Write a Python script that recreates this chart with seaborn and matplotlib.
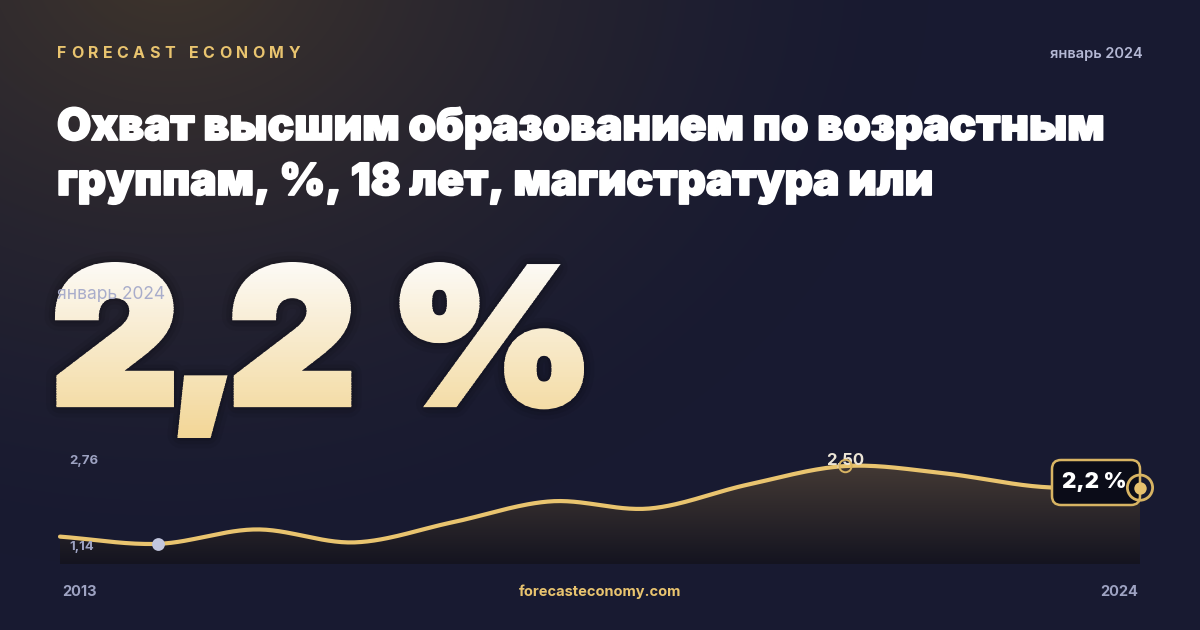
import numpy as np
import pandas as pd
import matplotlib
matplotlib.use("Agg")
import matplotlib.pyplot as plt
import matplotlib.patheffects as pe
import seaborn as sns
from matplotlib.textpath import TextPath
from matplotlib.font_manager import FontProperties, fontManager
from matplotlib.patches import PathPatch, FancyBboxPatch, Polygon, Rectangle
from matplotlib.transforms import Affine2D

# данные
years = list(range(2013, 2025))
values = [1.52, 1.42, 1.62, 1.44, 1.72, 2.01, 1.91, 2.24, 2.50, 2.40, 2.21, 2.20]
y_low, y_high = 1.14, 2.76
low_label, high_label = "1,14", "2,76"
peak_year, peak_label = 2021, "2,50"
min_year = 2014
big_value = "2,2 %"
end_label = "2,2 %"
brand = "FORECAST ECONOMY"
period = "январь 2024"
title_lines = ["Охват высшим образованием по возрастным",
               "группам, %, 18 лет, магистратура или"]
site = "forecasteconomy.com"

GOLD = "#e9c46f"
GREY = "#9ea3c2"


def font_file(family, weight):
    for f in fontManager.ttflist:
        if f.name == family and f.weight == weight and "Italic" not in f.fname:
            return FontProperties(fname=f.fname)
    return FontProperties(family=family, weight=weight)


# сглаженная кривая через точки (Catmull-Rom)
def smooth_curve(x, y, n=30):
    x = np.asarray(x, float)
    y = np.asarray(y, float)
    px = np.concatenate([[2 * x[0] - x[1]], x, [2 * x[-1] - x[-2]]])
    py = np.concatenate([[2 * y[0] - y[1]], y, [2 * y[-1] - y[-2]]])
    t = np.linspace(0, 1, n, endpoint=False)
    xs, ys = [], []
    for i in range(1, len(px) - 2):
        for p, out in ((px, xs), (py, ys)):
            p0, p1, p2, p3 = p[i - 1], p[i], p[i + 1], p[i + 2]
            out.append(0.5 * (2 * p1 + (-p0 + p2) * t
                              + (2 * p0 - 5 * p1 + 4 * p2 - p3) * t ** 2
                              + (-p0 + 3 * p1 - 3 * p2 + p3) * t ** 3))
    xs = np.concatenate(xs + [[x[-1]]])
    ys = np.concatenate(ys + [[y[-1]]])
    return xs, ys


def spaced_text(axx, x, y, s, gap, space_w, **kw):
    r = axx.figure.canvas.get_renderer()
    for ch in s:
        if ch == " ":
            x += space_w
            continue
        t = axx.text(x, y, ch, **kw)
        x += t.get_window_extent(renderer=r).width + gap


sns.set_theme(style="white")
plt.rcParams["font.family"] = ["Inter", "DejaVu Sans"]

f_black = font_file("Inter", 900)
f_bold = font_file("Inter", 700)
f_semi = font_file("Inter", 600)
f_reg = font_file("Inter", 400)
f_disp = font_file("Inter Display", 900)

fig = plt.figure(figsize=(12, 6.3), dpi=100)

# фон
bg = fig.add_axes([0, 0, 1, 1])
yy, xx = np.mgrid[0:630, 0:1200]
d = np.hypot(xx - 170, (yy + 40) * 1.25)
k = np.clip(1 - d / 760, 0, 1) ** 1.5
base = np.array([24, 26, 49]) / 255
glow = np.array([63, 53, 44]) / 255
bg.imshow(base + (glow - base) * k[..., None], extent=(0, 1200, 630, 0),
          aspect="auto", zorder=0)

# шапка
spaced_text(bg, 57, 53, brand, 4.5, 9, color=GOLD, fontsize=11.5,
            fontproperties=f_bold, va="center", ha="left", zorder=5)
bg.text(1143, 54, period, color="#b4b8d4", fontsize=10.5, fontproperties=f_semi,
        ha="right", va="center", zorder=5)
title_fx = [pe.withStroke(linewidth=1.3, foreground="white")]
for i, line in enumerate(title_lines):
    bg.text(57, 140 + 55 * i, line, color="white", fontproperties=f_black,
            fontsize=31.8, ha="left", va="baseline", zorder=5,
            path_effects=title_fx)

# большое число с градиентом (полосами, с утолщением контура)
tp = TextPath((0, 0), big_value, size=100, prop=f_disp)
ext = tp.get_extents()
grow = 3.5
x0, x1, top, bot = 55 + grow, 584 - grow, 262 + grow, 438 - grow
tr = (Affine2D().translate(-ext.x0, -ext.y1)
      .scale((x1 - x0) / ext.width, -(bot - top) / ext.height)
      .translate(x0, top))
path = tr.transform_path(tp)
for lw, a in ((20, 0.05), (14, 0.07), (9, 0.09)):
    bg.add_patch(PathPatch(path, facecolor="none", edgecolor=(0, 0, 0, a),
                           linewidth=lw, joinstyle="round", zorder=2))
c_top = np.array([252, 250, 246]) / 255
c_bot = np.array([242, 214, 150]) / 255
n_band = 70
edges = np.linspace(262, 438, n_band + 1)
for i in range(n_band):
    col = c_top + (c_bot - c_top) * (i + 0.5) / n_band
    p = PathPatch(path, facecolor=col, edgecolor=col, linewidth=grow * 2 * 0.72,
                  joinstyle="miter", zorder=3)
    bg.add_patch(p)
    r = Rectangle((40, edges[i] - 0.3), 560, edges[i + 1] - edges[i] + 0.6,
                  transform=bg.transData, facecolor="none", edgecolor="none")
    p.set_clip_path(r)
bg.text(57, 295, period, color="#a9adcb", fontsize=12.5, fontproperties=f_reg,
        ha="left", va="center", zorder=5)

# подписи внизу
bg.text(62, 592, str(years[0]), color=GREY, fontsize=10.5, fontproperties=f_bold,
        ha="left", va="center", zorder=5)
bg.text(1138, 592, str(years[-1]), color=GREY, fontsize=10.5, fontproperties=f_bold,
        ha="right", va="center", zorder=5)
bg.text(600, 592, site, color=GOLD, fontsize=10.5, fontproperties=f_bold,
        ha="center", va="center", zorder=5)

bg.set_xlim(0, 1200)
bg.set_ylim(630, 0)
bg.axis("off")

# график
ax = fig.add_axes([60 / 1200, (630 - 564) / 630, 1080 / 1200, (564 - 447.3) / 630])
ax.patch.set_alpha(0)
sx, sy = smooth_curve(years, values)
df = pd.DataFrame({"x": sx, "y": sy})

fill_grad = np.linspace(0, 1, 256)[:, None, None]
f_top = np.array([76, 64, 56]) / 255
f_bot = np.array([20, 20, 32]) / 255
fim = ax.imshow(f_top + (f_bot - f_top) * fill_grad,
                extent=(years[0], years[-1], y_low, y_high), aspect="auto", zorder=1)
poly = Polygon(np.column_stack([np.r_[sx, years[-1], years[0]],
                                np.r_[sy, y_low, y_low]]),
               closed=True, facecolor="none", edgecolor="none", transform=ax.transData)
ax.add_patch(poly)
fim.set_clip_path(poly)

sns.lineplot(data=df, x="x", y="y", sort=False, color=GOLD, linewidth=3,
             ax=ax, zorder=4, legend=False)
for ln in ax.lines:
    ln.set_clip_on(False)

mi = years.index(min_year)
ax.scatter([min_year], [values[mi]], s=85, color="#c3c7de", zorder=5,
           clip_on=False, linewidths=0)
pi = years.index(peak_year)
ax.annotate(peak_label, (peak_year, values[pi]), xytext=(0, 4),
            textcoords="offset points", ha="center", va="center",
            color="#ece5d6", fontsize=12, fontproperties=f_bold, zorder=5)
ax.scatter([peak_year], [values[pi]], s=80, facecolor="none", edgecolor="#d8b463",
           linewidths=1.4, zorder=6, clip_on=False)

# плашка с последним значением
box = FancyBboxPatch((1052, 460), 88, 45, boxstyle="round,pad=0,rounding_size=9",
                     facecolor="#0b0c18", edgecolor="#d8b463", linewidth=1.8,
                     transform=bg.transData, zorder=7, clip_on=False)
ax.add_patch(box)
ax.text(1094, 482, end_label, transform=bg.transData, color="white", fontsize=16,
        fontproperties=f_black, ha="center", va="center", zorder=8, clip_on=False)
ax.scatter([years[-1]], [values[-1]], s=330, facecolor="none", edgecolor="#d8b463",
           linewidths=2, zorder=9, clip_on=False)
ax.scatter([years[-1]], [values[-1]], s=80, color="#e7c16e", zorder=9,
           clip_on=False, linewidths=0)

ax.text(69, 461, high_label, transform=bg.transData, color=GREY, fontsize=9.5,
        fontproperties=f_bold, ha="left", va="center", zorder=8)
ax.text(69, 547, low_label, transform=bg.transData, color=GREY, fontsize=9.5,
        fontproperties=f_bold, ha="left", va="center", zorder=8)

ax.set_xlim(years[0], years[-1])
ax.set_ylim(y_low, y_high)
ax.axis("off")

fig.savefig("out.png", dpi=100)
